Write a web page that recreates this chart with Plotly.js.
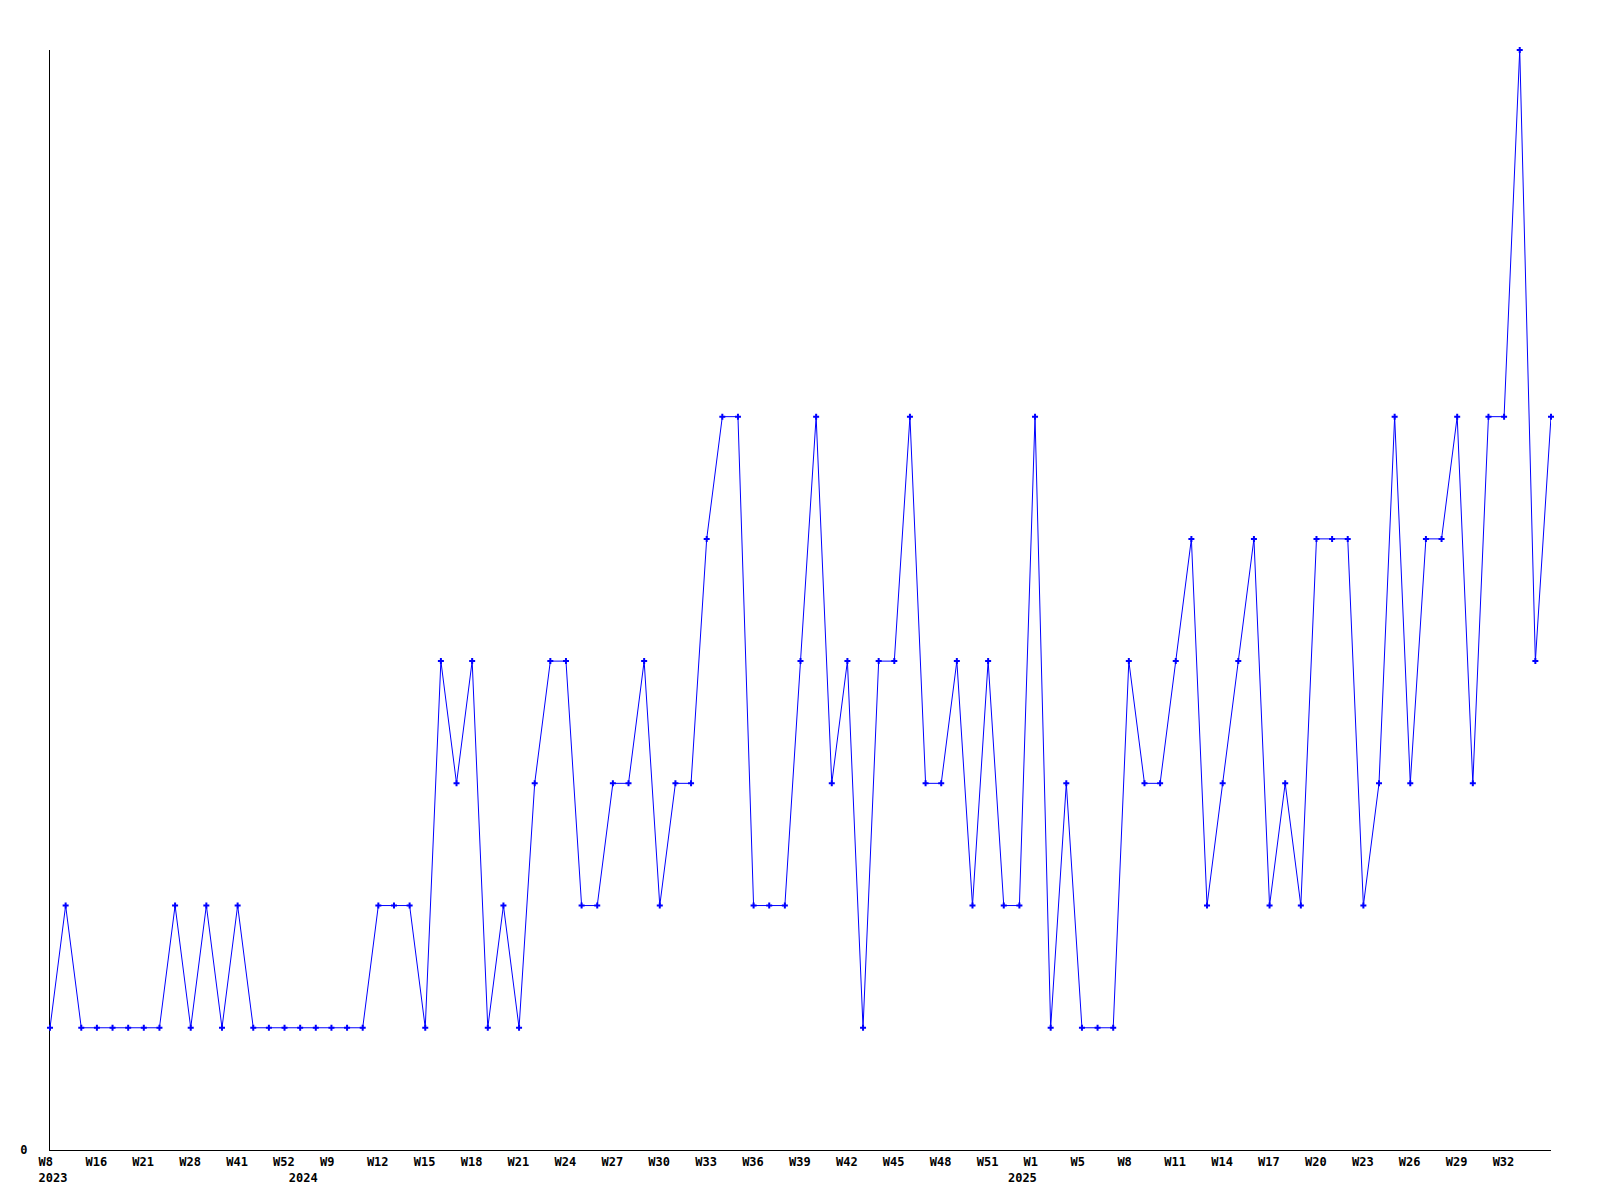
<!DOCTYPE html>
<html>
<head>
<meta charset="utf-8">
<script src="https://cdn.plot.ly/plotly-3.0.1.min.js"></script>
<style>
  html, body { margin: 0; padding: 0; background: #ffffff; }
  #chart { width: 1600px; height: 1200px; }
</style>
</head>
<body>
<div id="chart"></div>
<script>
// ---- data ----
const weeks2023 = [8, 11, 13, 16, 18, 20, 21, 24, 26, 28, 33, 37, 41, 45, 48, 52];
const weeks2024 = [7, 8, 9, 10, 11, 12, 13, 14, 15, 16, 17, 18, 19, 20, 21, 22, 23, 24, 25, 26, 27, 28, 29, 30,
                   31, 32, 33, 34, 35, 36, 37, 38, 39, 40, 41, 42, 43, 44, 45, 46, 47, 48, 49, 50, 51, 52];
const weeks2025 = [0, 1, 2, 4, 5, 6, 7, 8, 9, 10, 11, 12, 13, 14, 15, 16, 17, 18, 19, 20, 21, 22, 23, 24, 25,
                   26, 27, 28, 29, 30, 31, 32, 33, 34, 35];
const years = ["2023", "2024", "2025"];

const counts = [
  1, 2, 1, 1, 1, 1, 1, 1, 2, 1, 2, 1, 2, 1, 1, 1,                 // 2023
  1, 1, 1, 1, 1, 2, 2, 2, 1, 4, 3, 4, 1, 2, 1, 3, 4, 4, 2, 2,     // 2024
  3, 3, 4, 2, 3, 3, 5, 6, 6, 2, 2, 2, 4, 6, 3, 4, 1, 4, 4, 6,
  3, 3, 4, 2, 4, 2,
  2, 6, 1, 3, 1, 1, 1, 4, 3, 3, 4, 5, 2, 3, 4, 5, 2, 3, 2, 5,     // 2025
  5, 5, 2, 3, 6, 3, 5, 5, 6, 3, 6, 6, 9, 4, 6
];
const yTickVals = [0];
const yTickText = ["0"];

// ---- build categories and tick labels ----
const weekGroups = [weeks2023, weeks2024, weeks2025];
const categories = [];
const weekNo = [];
const firstOfYear = {};
weekGroups.forEach((grp, gi) => {
  grp.forEach((w, k) => {
    const c = years[gi] + "-W" + String(w).padStart(2, "0");
    if (k === 0) firstOfYear[categories.length] = years[gi];
    categories.push(c);
    weekNo.push(w);
  });
});

const NB = "\u00a0";
function pad4(s) { while (s.length < 4) s += NB; return s; }

const tickVals = [];
const tickText = [];
const lastIdx = categories.length - 1;
categories.forEach((c, i) => {
  const isStep = (i % 3 === 0) && i < lastIdx;
  const yr = firstOfYear[i];
  if (!isStep && !yr) return;
  let txt = isStep ? pad4("W" + weekNo[i]) : NB + NB + NB + NB;
  if (yr) txt += "<br>" + pad4(yr);
  tickVals.push(c);
  tickText.push(txt);
});

const trace = {
  type: "scatter",
  mode: "lines+markers",
  x: categories,
  y: counts,
  line: { color: "#0000ff", width: 1 },
  marker: { symbol: "cross", size: 5, color: "#0000ff" },
  cliponaxis: false,
  hoverinfo: "x+y"
};

const tickFont = { family: "DejaVu Sans Mono, monospace", size: 12, color: "#000000", weight: "bold" };

const layout = {
  width: 1600,
  height: 1200,
  paper_bgcolor: "#ffffff",
  plot_bgcolor: "#ffffff",
  showlegend: false,
  margin: { l: 50, r: 49, t: 50, b: 50, pad: 0 },
  xaxis: {
    type: "category",
    categoryorder: "array",
    categoryarray: categories,
    range: [0, categories.length - 1],
    showgrid: false,
    zeroline: false,
    showline: true,
    linecolor: "#000000",
    linewidth: 1,
    layer: "below traces",
    ticks: "",
    tickmode: "array",
    tickvals: tickVals,
    ticktext: tickText,
    tickangle: 0,
    tickfont: tickFont,
    ticklabelshift: 3,
    ticklabelstandoff: 1,
    automargin: false,
    fixedrange: true
  },
  yaxis: {
    range: [0, 9],
    showgrid: false,
    zeroline: false,
    showline: true,
    linecolor: "#000000",
    linewidth: 1,
    layer: "below traces",
    ticks: "",
    tickmode: "array",
    tickvals: yTickVals,
    ticktext: yTickText,
    tickfont: tickFont,
    ticklabelstandoff: 19,
    automargin: false,
    fixedrange: true
  }
};

Plotly.newPlot("chart", [trace], layout, { displayModeBar: false, staticPlot: true });
</script>
</body>
</html>
